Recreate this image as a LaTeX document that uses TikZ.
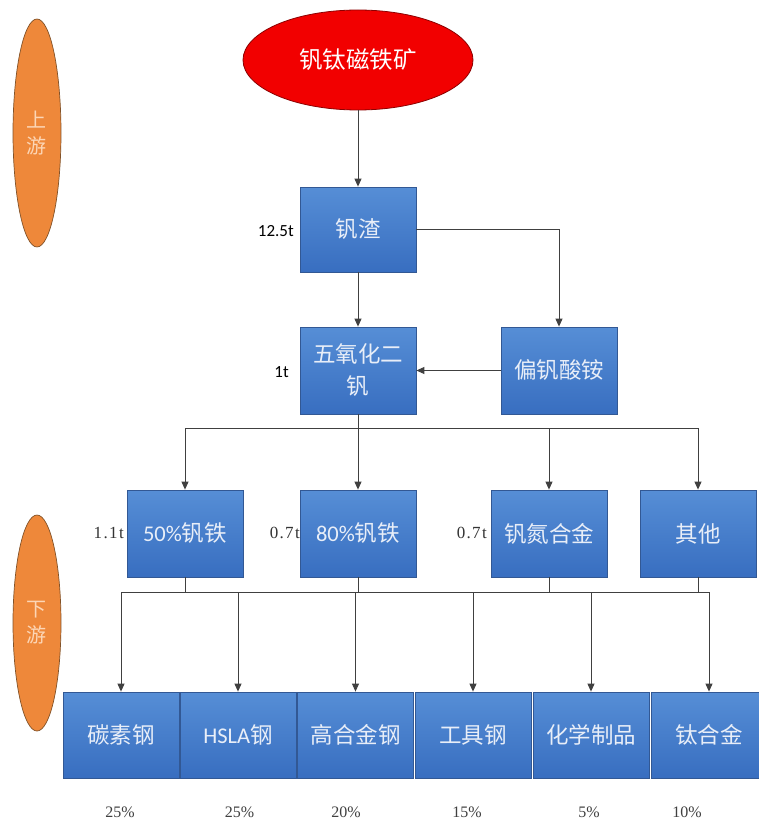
\documentclass[tikz,border=0pt]{standalone}
\usepackage{fontspec}
\newfontfamily\cjk{Noto Sans CJK SC}
\newfontfamily\lat{Carlito}
\newfontfamily\sserif[LetterSpace=8]{Liberation Serif}
\newfontfamily\pserif{Liberation Serif}
\usetikzlibrary{shapes.geometric,arrows.meta}
\definecolor{boxtop}{RGB}{86,142,214}
\definecolor{boxbot}{RGB}{56,110,192}
\definecolor{boxline}{RGB}{50,88,148}
\definecolor{boxtext}{RGB}{232,238,248}
\definecolor{linec}{RGB}{64,64,64}
\definecolor{orangef}{RGB}{238,136,58}
\definecolor{orangel}{RGB}{130,82,40}
\definecolor{orangetext}{RGB}{252,214,182}
\begin{document}
\begin{tikzpicture}[x=1pt,y=-1pt,
  bluebox/.style={rectangle,minimum width=116pt,minimum height=87pt,inner sep=0pt,
    top color=boxtop,bottom color=boxbot,draw=boxline,line width=0.8pt,
    text=boxtext,align=center,font=\cjk\fontsize{22.5}{32}\selectfont},
  sideell/.style={ellipse,minimum width=48pt,minimum height=228pt,inner sep=0pt,
    fill=orangef,draw=orangel,line width=0.7pt,text=orangetext,align=center,
    font=\cjk\fontsize{20}{26}\selectfont},
  conn/.style={draw=linec,line width=0.9pt},
  arr/.style={conn,-{Triangle[length=8pt,width=7pt]}},
  wlabel/.style={inner sep=0pt,anchor=east,font=\lat\fontsize{17}{20}\selectfont},
  slabel/.style={inner sep=0pt,anchor=east,font=\sserif\fontsize{17}{20}\selectfont,text=black!80},
  pct/.style={inner sep=0pt,font=\pserif\fontsize{16}{18}\selectfont,text=black!75}
]
\useasboundingbox (0,0) rectangle (758,824);
\fill[white] (0,0) rectangle (758,824);

% side ellipses
\node[sideell] (up) at (37,133) {上\\游};
\node[sideell,minimum height=216pt] (down) at (37,623) {下\\游};

% ore
\node[ellipse,minimum width=230pt,minimum height=100pt,inner sep=0pt,
  fill=red!95!black,draw=red!55!black,line width=0.8pt,text=white,
  font=\cjk\fontsize{23.5}{26}\selectfont] (ore) at (358,60) {钒钛磁铁矿};

% upstream boxes
\node[bluebox,minimum height=85pt] (slag) at (358,229.5) {钒渣};
\node[bluebox] (v2o5) at (358,370.5) {五氧化二\\钒};
\node[bluebox] (amv) at (559,370.5) {偏钒酸铵};

% middle row
\node[bluebox] (fv50) at (185,533.5) {{\lat 50\%}钒铁};
\node[bluebox] (fv80) at (358,533.5) {{\lat 80\%}钒铁};
\node[bluebox] (vn) at (549,533.5) {钒氮合金};
\node[bluebox] (oth) at (698,533.5) {其他};

% bottom row
\node[bluebox,minimum height=86pt] (c1) at (121,735) {碳素钢};
\node[bluebox,minimum height=86pt] (c2) at (238,735) {{\lat HSLA}钢};
\node[bluebox,minimum height=86pt] (c3) at (355.5,735) {高合金钢};
\node[bluebox,minimum height=86pt] (c4) at (473,735) {工具钢};
\node[bluebox,minimum height=86pt] (c5) at (591,735) {化学制品};
\node[bluebox,minimum height=86pt] (c6) at (709,735) {钛合金};

% labels
\node[wlabel] (l1) at (294,231) {12.5t};
\node[wlabel] (l2) at (289,372) {1t};
\node[slabel] (l3) at (124,533) {1.1t};
\node[slabel] (l4) at (300,533) {0.7t};
\node[slabel] (l5) at (487,533) {0.7t};

\node[pct] (p1) at (120,812) {25\%};
\node[pct] (p2) at (239.5,812) {25\%};
\node[pct] (p3) at (346,812) {20\%};
\node[pct] (p4) at (467,812) {15\%};
\node[pct] (p5) at (589,812) {5\%};
\node[pct] (p6) at (687,812) {10\%};

% connectors
\draw[arr] (ore.south) -- (slag.north);
\draw[arr] (slag.south) -- (v2o5.north);
\draw[arr] (slag.east) -| (amv.north);
\draw[arr] (amv.west) -- (v2o5.east);

\coordinate (j1) at (358,428);
\draw[conn] (v2o5.south) -- (j1);
\draw[arr] (j1) -| (fv50.north);
\draw[arr] (j1) -- (fv80.north);
\draw[arr] (j1) -| (vn.north);
\draw[arr] (j1) -| (oth.north);

\coordinate (busL) at (121,592);
\coordinate (busR) at (709,592);
\draw[conn] (busL) -- (busR);
\foreach \n in {fv50,fv80,vn,oth}{
  \draw[conn] (\n.south) -- (\n.south |- busL);
}
\foreach \n in {c1,c2,c3,c4,c5,c6}{
  \draw[arr] (\n.north |- busL) -- (\n.north);
}
\end{tikzpicture}
\end{document}
